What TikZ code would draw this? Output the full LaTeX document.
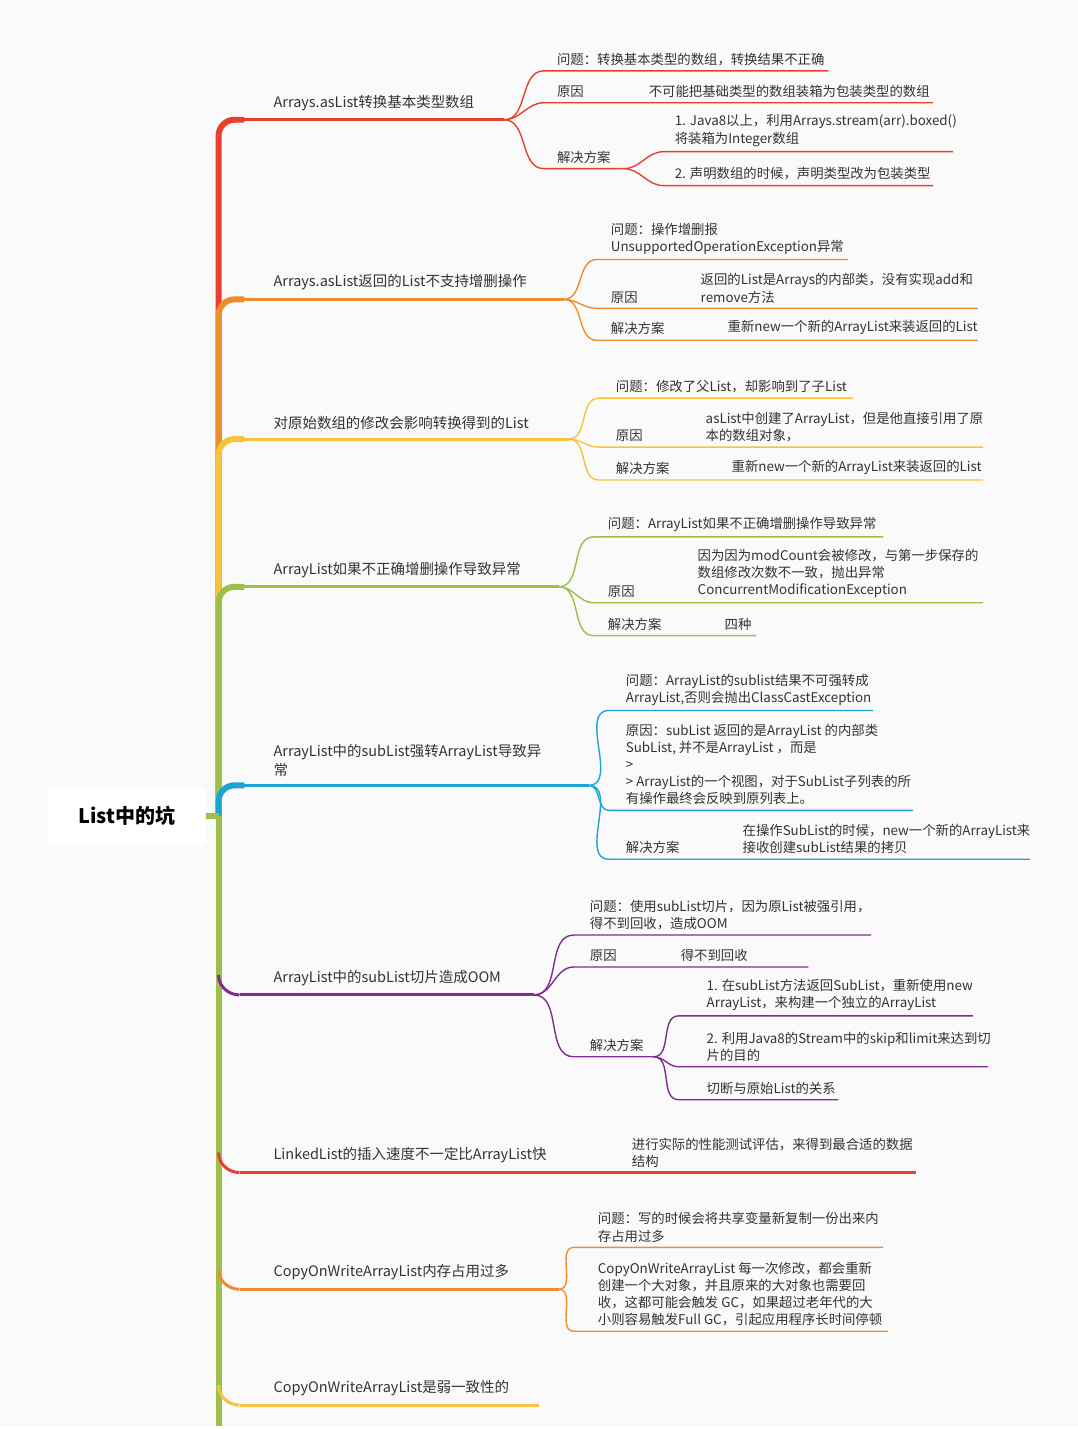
\documentclass[tikz,border=0pt]{standalone}
\usepackage{fontspec}
\setmainfont{Noto Sans CJK SC}
\usetikzlibrary{calc}
\definecolor{bg}{HTML}{FAFAFA}
\definecolor{cr}{HTML}{E8402F}
\definecolor{co}{HTML}{F08C30}
\definecolor{cy}{HTML}{F7C33C}
\definecolor{cg}{HTML}{9DC04A}
\definecolor{cb}{HTML}{1CA5D4}
\definecolor{cp}{HTML}{7E2E8E}
\definecolor{tc}{HTML}{333333}
\tikzset{
 txt/.style={inner sep=0pt,align=left,text=tc,font=\fontsize{13.4}{17.2}\selectfont,anchor=south west},
 mtxt/.style={inner sep=0pt,align=left,text=tc,font=\fontsize{14.5}{19}\selectfont,anchor=south west},
 subl/.style={line width=1.4pt},
 mainl/.style={line width=3pt},
 trunkl/.style={line width=6pt,rounded corners=16pt}
}
\newcommand\sbr[6]{\coordinate (#2s) at (#3,#5); \coordinate (#2e) at (#4,#5);
 \draw[#6,subl] (#1) to[out=0,in=180] (#2s) -- (#2e);}
\newcommand\tx[4]{\node[txt] (#1) at (#2,#3) {#4};}
\newcommand\mtx[4]{\node[mtxt] (#1) at (#2,#3) {#4};}
\begin{document}
\begin{tikzpicture}[x=1pt,y=-1pt]
\path[fill=bg] (0,0) rectangle (1080,1429);
\coordinate (rt) at (219,818);
\foreach \y/\c in {120/cr,300/co,440/cy,588/cg,787/cb}{
 \draw[\c,trunkl] (rt) |- (245,\y);}
\draw[cg,line width=6pt] (rt) -- (219,1429);
\foreach \y/\c in {997/cp,1175/cr,1292/co,1408/cy}{
 \draw[\c,line width=3pt] (219,\y-20) to[out=-90,in=180] (240,\y);}
\node[fill=white,minimum width=158pt,minimum height=57pt,rounded corners=3pt,font=\fontsize{20}{24}\selectfont\bfseries,text=black] (root) at (127,818) {List中的坑};
\draw[cg,line width=6pt] (root.east) -- (rt);
% ---------- branch 1
\coordinate (b1e) at (505,120);
\draw[cr,mainl] (240,120) -- (b1e);
\mtx{m1}{274}{111}{Arrays.asList转换基本类型数组}
\sbr{b1e}{a1}{545}{830}{71}{cr}\tx{t11}{558}{66}{问题：转换基本类型的数组，转换结果不正确}
\sbr{b1e}{a2}{545}{935}{103}{cr}\tx{t12}{558}{98}{原因}\tx{t12b}{650}{98}{不可能把基础类型的数组装箱为包装类型的数组}
\sbr{b1e}{a3}{545}{625}{169}{cr}\tx{t13}{558}{164}{解决方案}
\sbr{a3e}{a31}{665}{955}{152}{cr}\tx{t131}{676}{147}{1. Java8以上，利用Arrays.stream(arr).boxed()\\将装箱为Integer数组}
\sbr{a3e}{a32}{665}{935}{186}{cr}\tx{t132}{676}{181}{2. 声明数组的时候，声明类型改为包装类型}
% ---------- branch 2
\coordinate (b2e) at (565,300);
\draw[co,mainl] (240,300) -- (b2e);
\mtx{m2}{274}{291}{Arrays.asList返回的List不支持增删操作}
\sbr{b2e}{c1}{598}{850}{260}{co}\tx{t21}{612}{255}{问题：操作增删报\\UnsupportedOperationException异常}
\sbr{b2e}{c2}{598}{980}{309}{co}\tx{t22}{612}{304}{原因}\tx{t22b}{702}{304}{返回的List是Arrays的内部类，没有实现add和\\remove方法}
\sbr{b2e}{c3}{598}{980}{341}{co}\tx{t23}{612}{336}{解决方案}\tx{t23b}{729}{336}{重新new一个新的ArrayList来装返回的List}
% ---------- branch 3
\coordinate (b3e) at (570,440);
\draw[cy,mainl] (240,440) -- (b3e);
\mtx{m3}{274}{431}{对原始数组的修改会影响转换得到的List}
\sbr{b3e}{d1}{600}{855}{399}{cy}\tx{t31}{617}{394}{问题：修改了父List，却影响到了子List}
\sbr{b3e}{d2}{600}{985}{448}{cy}\tx{t32}{617}{443}{原因}\tx{t32b}{707}{443}{asList中创建了ArrayList，但是他直接引用了原\\本的数组对象，}
\sbr{b3e}{d3}{600}{985}{481}{cy}\tx{t33}{617}{476}{解决方案}\tx{t33b}{733}{476}{重新new一个新的ArrayList来装返回的List}
% ---------- branch 4
\coordinate (b4e) at (560,588);
\draw[cg,mainl] (240,588) -- (b4e);
\mtx{m4}{274}{579}{ArrayList如果不正确增删操作导致异常}
\sbr{b4e}{e1}{595}{885}{538}{cg}\tx{t41}{609}{533}{问题：ArrayList如果不正确增删操作导致异常}
\sbr{b4e}{e2}{595}{985}{604}{cg}\tx{t42}{609}{599}{原因}\tx{t42b}{699}{599}{因为因为modCount会被修改，与第一步保存的\\数组修改次数不一致，抛出异常\\ConcurrentModificationException}
\sbr{b4e}{e3}{595}{758}{637}{cg}\tx{t43}{609}{632}{解决方案}\tx{t43b}{726}{632}{四种}
% ---------- branch 5
\coordinate (b5e) at (590,787);
\draw[cb,mainl] (240,787) -- (b5e);
\mtx{m5}{274}{778}{ArrayList中的subList强转ArrayList导致异\\常}
\sbr{b5e}{f1}{610}{875}{712}{cb}\tx{t51}{627}{707}{问题：ArrayList的sublist结果不可强转成\\ArrayList,否则会抛出ClassCastException}
\sbr{b5e}{f2}{610}{915}{812}{cb}\tx{t52}{627}{807}{原因：subList 返回的是ArrayList 的内部类\\SubList, 并不是ArrayList ，而是\\>\\> ArrayList的一个视图，对于SubList子列表的所\\有操作最终会反映到原列表上。}
\sbr{b5e}{f3}{610}{1032}{861}{cb}\tx{t53}{627}{856}{解决方案}\tx{t53b}{744}{856}{在操作SubList的时候，new一个新的ArrayList来\\接收创建subList结果的拷贝}
% ---------- branch 6
\coordinate (b6e) at (535,997);
\draw[cp,mainl] (240,997) -- (b6e);
\mtx{m6}{274}{988}{ArrayList中的subList切片造成OOM}
\sbr{b6e}{g1}{575}{873}{937}{cp}\tx{t61}{591}{932}{问题：使用subList切片，因为原List被强引用，\\得不到回收，造成OOM}
\sbr{b6e}{g2}{575}{810}{969}{cp}\tx{t62}{591}{964}{原因}\tx{t62b}{682}{964}{得不到回收}
\sbr{b6e}{g3}{575}{655}{1059}{cp}\tx{t63}{591}{1054}{解决方案}
\sbr{g3e}{g31}{680}{975}{1018}{cp}\tx{t631}{708}{1013}{1. 在subList方法返回SubList，重新使用new\\ArrayList，来构建一个独立的ArrayList}
\sbr{g3e}{g32}{680}{990}{1069}{cp}\tx{t632}{708}{1064}{2. 利用Java8的Stream中的skip和limit来达到切\\片的目的}
\sbr{g3e}{g33}{680}{840}{1102}{cp}\tx{t633}{708}{1097}{切断与原始List的关系}
% ---------- branch 7
\coordinate (b7e) at (918,1175);
\draw[cr,mainl] (240,1175) -- (b7e);
\mtx{m7}{274}{1166}{LinkedList的插入速度不一定比ArrayList快}
\tx{t71}{633}{1170}{进行实际的性能测试评估，来得到最合适的数据\\结构}
% ---------- branch 8
\coordinate (b8e) at (560,1292);
\draw[co,mainl] (240,1292) -- (b8e);
\mtx{m8}{274}{1283}{CopyOnWriteArrayList内存占用过多}
\sbr{b8e}{h1}{575}{885}{1250}{co}\tx{t81}{599}{1245}{问题：写的时候会将共享变量新复制一份出来内\\存占用过多}
\sbr{b8e}{h2}{575}{890}{1334}{co}\tx{t82}{599}{1329}{CopyOnWriteArrayList 每一次修改，都会重新\\创建一个大对象，并且原来的大对象也需要回\\收，这都可能会触发 GC，如果超过老年代的大\\小则容易触发Full GC，引起应用程序长时间停顿}
% ---------- branch 9
\coordinate (b9e) at (540,1408);
\draw[cy,mainl] (240,1408) -- (b9e);
\mtx{m9}{274}{1399}{CopyOnWriteArrayList是弱一致性的}
\end{tikzpicture}
\end{document}
